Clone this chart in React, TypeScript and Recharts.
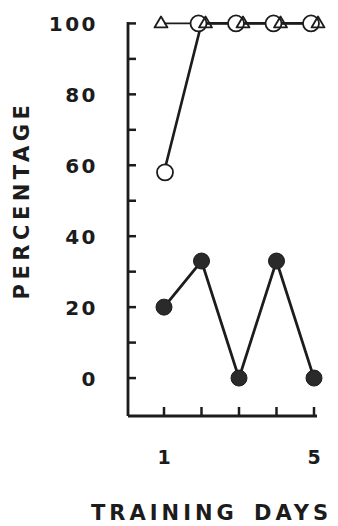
import React from "react";
import { LineChart, Line, XAxis, YAxis } from "recharts";

const days = [1, 2, 3, 4, 5];
const triangleValues = [100, 100, 100, 100, 100];
const openCircleValues = [58, 100, 100, 100, 100];
const filledCircleValues = [20, 33, 0, 33, 0];
const yTicks = [0, 10, 20, 30, 40, 50, 60, 70, 80, 90, 100];
const yTickLabels = [0, 20, 40, 60, 80, 100];
const xTicks = [1, 2, 3, 4, 5];
const xTickLabels = [1, 5];

const data = days.map((day, i) => ({
  day,
  triangle: triangleValues[i],
  open: openCircleValues[i],
  filled: filledCircleValues[i],
}));

const INK = "#1c1c1c";
const FONT = "'DejaVu Sans', Verdana, sans-serif";
const AXIS_X = 128;
const AXIS_Y = 416;

function YTick(props: any) {
  const { y, payload } = props;
  const v = payload.value;
  return (
    <g>
      <line x1={AXIS_X} x2={AXIS_X + 8} y1={y} y2={y} stroke={INK} strokeWidth={2.5} />
      {yTickLabels.includes(v) && (
        <text
          x={98}
          y={y}
          dy={7.5}
          textAnchor="end"
          fontFamily={FONT}
          fontWeight="bold"
          fontSize={20}
          letterSpacing={2.5}
          fill={INK}
        >
          {v}
        </text>
      )}
    </g>
  );
}

function XTick(props: any) {
  const { x, payload } = props;
  const v = payload.value;
  return (
    <g>
      <line x1={x} x2={x} y1={AXIS_Y} y2={AXIS_Y - 9} stroke={INK} strokeWidth={2.5} />
      {xTickLabels.includes(v) && (
        <text
          x={x}
          y={457}
          dy={7}
          textAnchor="middle"
          fontFamily={FONT}
          fontWeight="bold"
          fontSize={19}
          fill={INK}
        >
          {v}
        </text>
      )}
    </g>
  );
}

function TriangleDot(props: any) {
  const { cx, cy, index } = props;
  const x = cx + (index === 0 ? -3 : 4);
  const y = cy - 1;
  return (
    <path
      key={`t-${index}`}
      d={`M${x},${y - 6} L${x + 6.5},${y + 5} L${x - 6.5},${y + 5} Z`}
      fill="none"
      stroke={INK}
      strokeWidth={1.8}
      strokeLinejoin="round"
    />
  );
}

function OpenDot(props: any) {
  const { cx, cy, index } = props;
  return (
    <circle
      key={`o-${index}`}
      cx={cx + (index === 0 ? 1 : -3)}
      cy={cy}
      r={8}
      fill="#fff"
      stroke={INK}
      strokeWidth={1.8}
    />
  );
}

function FilledDot(props: any) {
  const { cx, cy, index } = props;
  return (
    <circle
      key={`f-${index}`}
      cx={cx}
      cy={cy}
      r={8}
      fill="#2a2a2a"
      stroke={INK}
      strokeWidth={1}
    />
  );
}

export default function App() {
  return (
    <div
      style={{
        position: "absolute",
        left: 0,
        top: 0,
        width: 338,
        height: 526,
        background: "#fff",
      }}
    >
      <LineChart
        width={338}
        height={526}
        data={data}
        margin={{ top: 22, right: 21, bottom: 50, left: 0 }}
      >
        <XAxis
          dataKey="day"
          type="number"
          domain={[0.04, 5.08]}
          ticks={xTicks}
          height={60}
          axisLine={{ stroke: INK, strokeWidth: 2.8 }}
          tickLine={false}
          tick={<XTick />}
          interval={0}
        />
        <YAxis
          type="number"
          domain={[-10.7, 100.4]}
          ticks={yTicks}
          width={AXIS_X}
          axisLine={{ stroke: INK, strokeWidth: 2.8 }}
          tickLine={false}
          tick={<YTick />}
          interval={0}
        />
        <Line
          dataKey="open"
          stroke={INK}
          strokeWidth={2.6}
          dot={<OpenDot />}
          activeDot={false}
          isAnimationActive={false}
        />
        <Line
          dataKey="triangle"
          stroke={INK}
          strokeWidth={1.6}
          dot={<TriangleDot />}
          activeDot={false}
          isAnimationActive={false}
        />
        <Line
          dataKey="filled"
          stroke={INK}
          strokeWidth={2.8}
          dot={<FilledDot />}
          activeDot={false}
          isAnimationActive={false}
        />
      </LineChart>
      <svg
        width={338}
        height={526}
        style={{ position: "absolute", left: 0, top: 0, pointerEvents: "none" }}
      >
        <text
          transform="translate(29,200) rotate(-90)"
          textAnchor="middle"
          fontFamily={FONT}
          fontWeight="bold"
          fontSize={21}
          letterSpacing={4.5}
          fill={INK}
        >
          PERCENTAGE
        </text>
        <text
          y={520}
          fontFamily={FONT}
          fontWeight="bold"
          fontSize={21}
          letterSpacing={4}
          fill={INK}
        >
          <tspan x={91}>TRAINING</tspan>
          <tspan x={254}>DAYS</tspan>
        </text>
      </svg>
    </div>
  );
}
